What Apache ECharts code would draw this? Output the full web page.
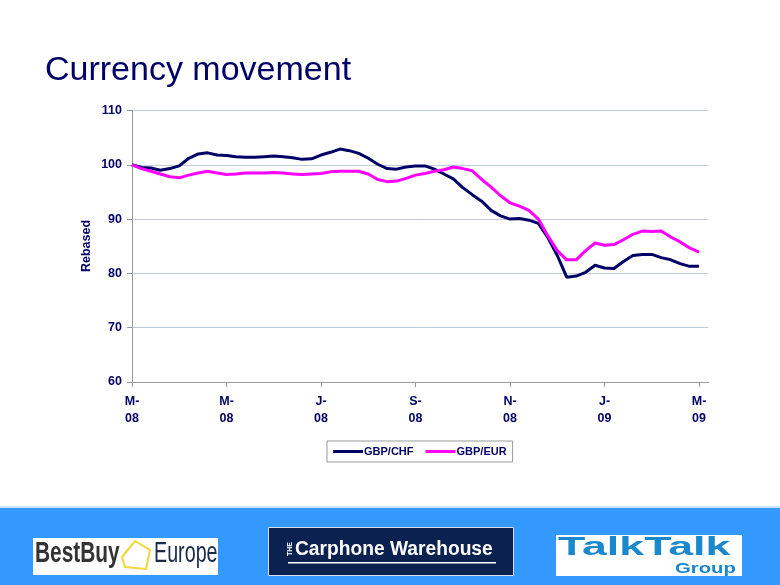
<!DOCTYPE html>
<html>
<head>
<meta charset="utf-8">
<script src="https://cdn.jsdelivr.net/npm/echarts@6/dist/echarts.min.js"></script>
<style>
  html, body { margin: 0; padding: 0; background: #fff; }
  #main { width: 780px; height: 585px; }
</style>
</head>
<body>
<div id="main"></div>
<script>
  // weekly points, Mar 08 -> Mar 09 (one spare slot at the end like the excel date axis)
  var weeks = [];
  for (var w = 0; w < 62; w++) weeks.push(w);

  var tickLabels = ['M-\n08', 'M-\n08', 'J-\n08', 'S-\n08', 'N-\n08', 'J-\n09', 'M-\n09'];

  var gbpChf = [
    100, 99.5, 99.4, 99.0, 99.3, 99.8, 101.2, 102.0, 102.2, 101.8,
    101.7, 101.5, 101.4, 101.4, 101.5, 101.6, 101.5, 101.3, 101.0, 101.1,
    101.8, 102.3, 102.9, 102.6, 102.1, 101.2, 100.1, 99.3, 99.2, 99.6,
    99.8, 99.8, 99.2, 98.3, 97.4, 95.8, 94.5, 93.3, 91.6, 90.6,
    90.0, 90.1, 89.8, 89.2, 86.6, 83.3, 79.3, 79.5, 80.2, 81.5,
    81.0, 80.9, 82.2, 83.3, 83.5, 83.5, 82.9, 82.5, 81.8, 81.3,
    81.3
  ];
  var gbpEur = [
    100, 99.3, 98.8, 98.3, 97.8, 97.6, 98.1, 98.5, 98.8, 98.5,
    98.2, 98.3, 98.5, 98.5, 98.5, 98.6, 98.5, 98.3, 98.2, 98.3,
    98.4, 98.7, 98.8, 98.8, 98.8, 98.3, 97.3, 96.9, 97.0, 97.5,
    98.1, 98.4, 98.8, 99.1, 99.6, 99.3, 98.9, 97.3, 95.9, 94.3,
    93.0, 92.4, 91.6, 90.0, 86.9, 84.2, 82.5, 82.5, 84.2, 85.6,
    85.2, 85.3, 86.2, 87.2, 87.8, 87.7, 87.8, 86.7, 85.8, 84.7,
    83.9
  ];

  var navy = '#000066';
  var fam = 'Liberation Sans, Arial, sans-serif';
  var lblStyle = { color: navy, fontWeight: 'bold', fontSize: 12.5, fontFamily: fam };

  var myChart = echarts.init(document.getElementById('main'));
  var option = {
    animation: false,
    backgroundColor: '#fff',
    title: {
      text: 'Currency movement',
      left: 40,
      top: 49,
      textStyle: { color: navy, fontSize: 34, fontWeight: 'normal', fontFamily: fam }
    },
    grid: { left: 132, right: 71.5, top: 110.5, bottom: 203 },
    legend: {
      data: [
        { name: 'GBP/CHF', icon: 'rect' },
        { name: 'GBP/EUR', icon: 'rect' }
      ],
      top: 441,
      left: 327,
      itemWidth: 30,
      itemHeight: 3,
      itemGap: 12,
      padding: [5, 6, 5, 6],
      borderColor: '#999',
      borderWidth: 1,
      textStyle: { color: navy, fontWeight: 'bold', fontSize: 11, fontFamily: fam, padding: [0, 0, 0, -4] }
    },
    xAxis: {
      type: 'category',
      data: weeks,
      boundaryGap: false,
      axisLine: { lineStyle: { color: '#999' } },
      axisTick: { interval: 9, length: 5, lineStyle: { color: '#999' } },
      axisLabel: Object.assign({
        interval: 9,
        margin: 11,
        lineHeight: 17,
        formatter: function (v, i) { return tickLabels[i / 10] || ''; }
      }, lblStyle),
      splitLine: { show: false }
    },
    yAxis: {
      type: 'value',
      min: 60,
      max: 110,
      interval: 10,
      axisLine: { show: true, lineStyle: { color: '#999' } },
      axisTick: { show: true, length: 5, lineStyle: { color: '#999' } },
      axisLabel: Object.assign({ margin: 10 }, lblStyle),
      splitLine: { lineStyle: { color: '#bccadb', width: 1 } }
    },
    series: [
      {
        name: 'GBP/CHF',
        type: 'line',
        data: gbpChf,
        showSymbol: false,
        symbol: 'none',
        color: navy,
        lineStyle: { width: 3, color: navy }
      },
      {
        name: 'GBP/EUR',
        type: 'line',
        data: gbpEur,
        showSymbol: false,
        symbol: 'none',
        color: '#ff00ff',
        lineStyle: { width: 3, color: '#ff00ff' }
      }
    ],
    graphic: [
      // y axis title
      { type: 'text', x: 87, y: 246, rotation: Math.PI / 2, style: { text: 'Rebased', fill: navy, align: 'center', verticalAlign: 'middle', font: 'bold 12.5px "Liberation Sans", Arial, sans-serif' } },
      // footer band
      { type: 'rect', left: 0, top: 506, shape: { width: 780, height: 2 }, style: { fill: '#cfe3ff' }, silent: true },
      { type: 'rect', left: 0, top: 508, shape: { width: 780, height: 77 }, style: { fill: '#3399ff' }, silent: true },
      // Best Buy Europe
      { type: 'rect', left: 33, top: 538, shape: { width: 185, height: 37 }, style: { fill: '#fff' } },
      { type: 'text', x: 35, y: 554, scaleX: 0.72, style: { text: 'BestBuy', fill: '#333', verticalAlign: 'middle', font: 'bold 29px "Liberation Sans", sans-serif' } },
      { type: 'polygon', shape: { points: [[122, 557], [135, 541], [150, 550], [146, 569], [125, 567]] }, style: { fill: 'none', stroke: '#f2d63a', lineWidth: 2 } },
      { type: 'text', x: 154, y: 554, scaleX: 0.68, style: { text: 'Europe', fill: '#1b2a48', verticalAlign: 'middle', font: '29px "Liberation Sans", sans-serif' } },
      // Carphone Warehouse
      { type: 'rect', left: 268, top: 527, shape: { width: 245, height: 48 }, style: { fill: '#0b2250', stroke: '#dde', lineWidth: 1 } },
      { type: 'text', x: 290, y: 549, rotation: Math.PI / 2, style: { text: 'THE', fill: '#fff', font: 'bold 7px "Liberation Sans", sans-serif', align: 'center', verticalAlign: 'middle' } },
      { type: 'text', x: 295, y: 549, scaleX: 0.96, style: { text: 'Carphone Warehouse', fill: '#fff', verticalAlign: 'middle', font: 'bold 20px "Liberation Sans", sans-serif' } },
      { type: 'rect', left: 288, top: 562, shape: { width: 208, height: 1.5 }, style: { fill: '#fff' } },
      // TalkTalk Group
      { type: 'rect', left: 556, top: 535, shape: { width: 186, height: 41 }, style: { fill: '#fff' } },
      { type: 'text', x: 558, y: 548, scaleX: 1.72, style: { text: 'TalkTalk', fill: '#1a88cc', verticalAlign: 'middle', font: 'bold 26px "Liberation Sans", sans-serif' } },
      { type: 'text', x: 675, y: 569, scaleX: 1.45, style: { text: 'Group', fill: '#1a88cc', verticalAlign: 'middle', font: 'bold 14px "Liberation Sans", sans-serif' } }
    ]
  };
  myChart.setOption(option);
</script>
</body>
</html>
